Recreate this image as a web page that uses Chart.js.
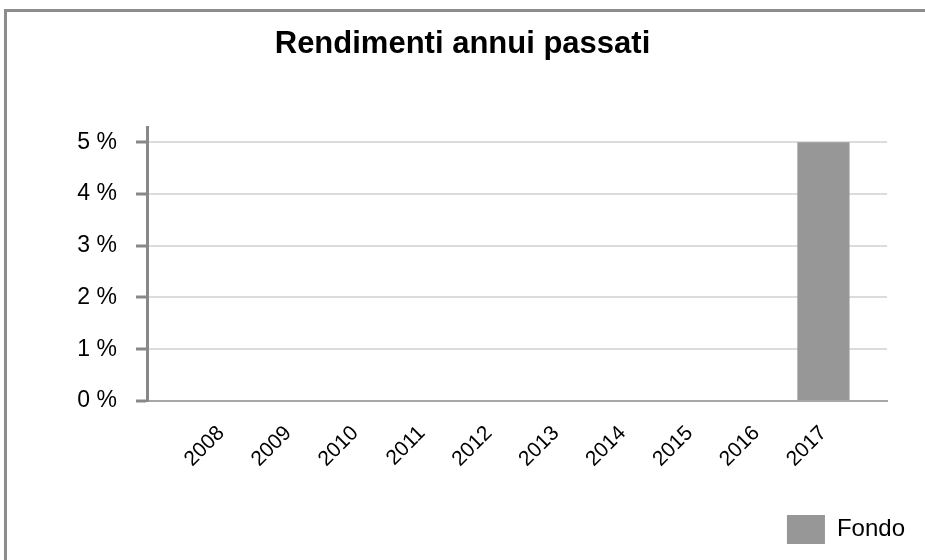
<!DOCTYPE html>
<html>
<head>
<meta charset="utf-8">
<script src="https://cdn.jsdelivr.net/npm/chart.js@4"></script>
<style>
  html, body { margin: 0; padding: 0; background: #fff; }
  #wrap { position: relative; width: 925px; height: 560px; overflow: hidden; }
  #frame { position: absolute; left: 4px; top: 9px; right: -10px; bottom: -10px;
           border-top: 3px solid #8c8c8c; border-left: 3px solid #8c8c8c; }
  #myChart { position: absolute; left: 0; top: 0; }
</style>
</head>
<body>
<div id="wrap">
  <div id="frame"></div>
  <canvas id="myChart" width="925" height="560"></canvas>
</div>
<script>
// anni e rendimenti del fondo (%)
const years = [2008, 2009, 2010, 2011, 2012, 2013, 2014, 2015, 2016, 2017];
const fondo = [null, null, null, null, null, null, null, null, null, 5];
const yTicks = [0, 1, 2, 3, 4, 5];

const ctx = document.getElementById('myChart');

new Chart(ctx, {
  type: 'bar',
  data: {
    datasets: [{
      label: 'Fondo',
      data: years.map((y, i) => ({ x: y, y: fondo[i] })),
      backgroundColor: '#979797',
      borderWidth: 0,
      barPercentage: 0.78,
      categoryPercentage: 1
    }]
  },
  options: {
    responsive: false,
    animation: false,
    layout: { padding: { left: 0, right: 0, top: 0, bottom: 6 } },
    plugins: {
      title: {
        display: true,
        text: 'Rendimenti annui passati',
        color: '#000',
        font: { family: 'Liberation Sans', size: 31, weight: 'bold' },
        padding: { top: 26, bottom: 64 }
      },
      legend: {
        position: 'bottom',
        align: 'end',
        labels: {
          boxWidth: 38,
          boxHeight: 29,
          color: '#000',
          font: { family: 'Liberation Sans', size: 24 },
          padding: 20
        }
      },
      tooltip: { enabled: false }
    },
    scales: {
      x: {
        type: 'linear',
        offset: false,
        min: 2006.89,
        max: 2017.95,
        afterBuildTicks: s => { s.ticks = years.map(v => ({ value: v })); },
        afterFit: s => { s.height = 94; },
        grid: { display: false, drawTicks: false },
        border: { color: '#a8a8a8', width: 2 },
        ticks: {
          color: '#000',
          font: { family: 'Liberation Sans', size: 21 },
          minRotation: 45,
          maxRotation: 45,
          padding: 20,
          callback: v => String(v)
        }
      },
      y: {
        min: 0,
        max: 5.29,
        afterBuildTicks: s => { s.ticks = yTicks.map(v => ({ value: v })); },
        afterFit: s => { s.width = 147; },
        grid: {
          color: '#dcdcdc',
          lineWidth: 2,
          tickColor: '#888',
          tickWidth: 3,
          tickLength: 11
        },
        border: { color: '#888', width: 3 },
        ticks: {
          color: '#000',
          font: { family: 'Liberation Sans', size: 23 },
          padding: 19,
          callback: v => v + ' %'
        }
      },
      // asse vuoto a destra, solo per lasciare il margine
      yRight: {
        position: 'right',
        afterFit: s => { s.width = 38; },
        grid: { display: false, drawTicks: false },
        border: { display: false },
        ticks: { display: false }
      }
    }
  }
});
</script>
</body>
</html>
